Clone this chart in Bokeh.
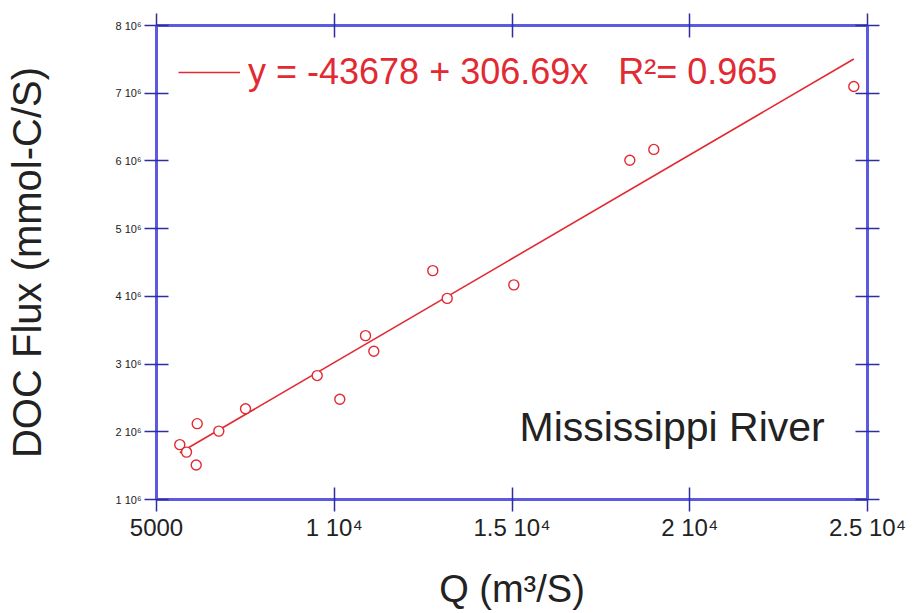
from bokeh.plotting import figure
from bokeh.models import (LinearAxis, FixedTicker, Legend, LegendItem, Label, Range1d)
from bokeh.embed import file_html
from bokeh.resources import INLINE

# ---- data ----
q_flow = [5655, 5844, 6117, 6145, 6753, 7504, 9520, 10156, 10879, 11113,
          12772, 13177, 15051, 18314, 18989, 24615]
doc_flux = [1.81e6, 1.70e6, 1.51e6, 2.12e6, 2.01e6, 2.34e6, 2.83e6, 2.48e6,
            3.42e6, 3.19e6, 4.38e6, 3.97e6, 4.17e6, 6.01e6, 6.17e6, 7.10e6]
fit_intercept = -43678
fit_slope = 306.69
fit_r2 = 0.965

x_ticks = [5000, 10000, 15000, 20000, 25000]
x_tick_labels = ["5000", "1 10\u2074", "1.5 10\u2074", "2 10\u2074", "2.5 10\u2074"]
y_ticks = [1e6, 2e6, 3e6, 4e6, 5e6, 6e6, 7e6, 8e6]
y_tick_labels = ["1 10\u2076", "2 10\u2076", "3 10\u2076", "4 10\u2076",
                 "5 10\u2076", "6 10\u2076", "7 10\u2076", "8 10\u2076"]
river_name = "Mississippi River"
x_title = "Q (m\u00b3/S)"
y_title = "DOC Flux (mmol-C/S)"
eq_text = "y = -43678 + 306.69x   R\u00b2= 0.965"

RED = "#e22a33"
AXIS_BLUE = "#5a5ae2"
TICK_BLUE = "#2e2ea0"
FONT = "Liberation Sans"

p = figure(width=913, height=612, output_backend="svg", toolbar_location=None,
           x_range=Range1d(5000, 25000), y_range=Range1d(1e6, 8e6),
           x_axis_location=None, y_axis_location=None,
           min_border_left=156, min_border_right=46,
           min_border_top=25, min_border_bottom=113)
p.xgrid.visible = False
p.ygrid.visible = False
p.outline_line_color = None
p.background_fill_color = "white"
p.border_fill_color = "white"


def style_axis(ax, ticks, overrides, font_size, standoff):
    ax.ticker = FixedTicker(ticks=ticks)
    ax.major_label_overrides = overrides
    ax.axis_line_color = AXIS_BLUE
    ax.axis_line_width = 3
    ax.major_tick_line_color = TICK_BLUE
    ax.major_tick_line_width = 1.5
    ax.major_tick_in = 12
    ax.major_tick_out = 12
    ax.minor_tick_line_color = None
    ax.major_label_text_font = FONT
    ax.major_label_text_font_size = font_size
    ax.major_label_text_color = "#222222"
    ax.major_label_standoff = standoff


x_over = {t: l for t, l in zip(x_ticks, x_tick_labels)}
y_over = {t: l for t, l in zip(y_ticks, y_tick_labels)}

bottom = LinearAxis()
style_axis(bottom, x_ticks, x_over, "24px", 2)
bottom.axis_label = x_title
bottom.axis_label_text_font = FONT
bottom.axis_label_text_font_size = "38px"
bottom.axis_label_text_font_style = "normal"
bottom.axis_label_text_color = "#222222"
bottom.axis_label_standoff = 24
p.add_layout(bottom, "below")

left = LinearAxis()
style_axis(left, y_ticks, y_over, "11px", 3)
left.axis_label = y_title
left.axis_label_text_font = FONT
left.axis_label_text_font_size = "40px"
left.axis_label_text_font_style = "normal"
left.axis_label_text_color = "#222222"
left.axis_label_standoff = 64
p.add_layout(left, "left")

top = LinearAxis()
style_axis(top, x_ticks, {t: "" for t in x_ticks}, "0px", 0)
p.add_layout(top, "above")

right = LinearAxis()
style_axis(right, y_ticks, {t: "" for t in y_ticks}, "0px", 0)
p.add_layout(right, "right")

# regression line over data extent
fit_x = [min(q_flow), max(q_flow)]
fit_y = [fit_intercept + fit_slope * v for v in fit_x]
fit_r = p.line(fit_x, fit_y, line_color=RED, line_width=1.6)

p.scatter(q_flow, doc_flux, marker="circle", size=10, fill_color="white",
          line_color=RED, line_width=1.4)

legend = Legend(items=[LegendItem(label=eq_text, renderers=[fit_r])],
                location=(22, 406), glyph_width=62, glyph_height=20,
                label_standoff=8, padding=0, margin=0,
                border_line_alpha=0, background_fill_alpha=0,
                label_text_color=RED, label_text_font=FONT,
                label_text_font_size="36px")
p.add_layout(legend, "center")

p.add_layout(Label(x=15211, y=2.078e6, text=river_name, text_font=FONT,
                   text_font_size="41px", text_color="#222222",
                   text_baseline="middle"))

open("out.html", "w").write(file_html(p, INLINE))
